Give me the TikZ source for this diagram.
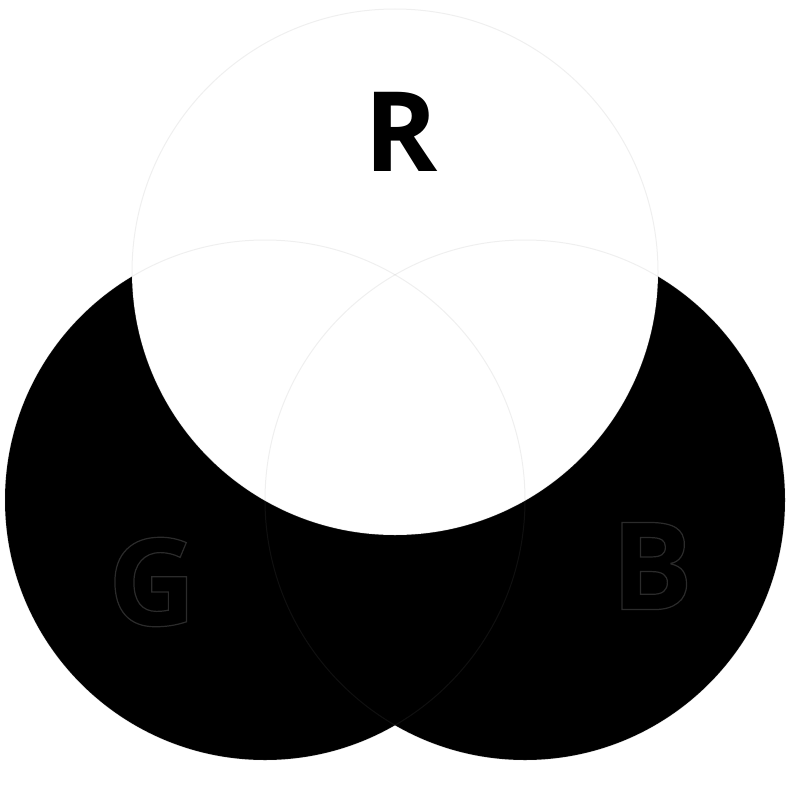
\documentclass[tikz,border=0pt]{standalone}
\usepackage{fontspec}
\setmainfont{Open Sans}
\tikzset{
  faint/.style={draw=gray, draw opacity=0.12, line width=1pt},
  ghostfont/.style={inner sep=0pt, font=\fontsize{122}{122}\selectfont\bfseries}
}
\newcommand{\outlined}[1]{\special{pdf:code q 1 Tr 1.2 w 0.17 0.17 0.17 RG}#1\special{pdf:code Q}}
\begin{document}
\begin{tikzpicture}[x=1pt,y=-1pt]
\useasboundingbox[fill=white] (0,0) rectangle (800,800);
% G and B discs
\fill[black] (265,500) circle[radius=260];
\fill[black] (525,500) circle[radius=260];
% R disc on top
\fill[white] (395,272) circle[radius=263];
\path[faint] (395,272) circle[radius=263];
% faint outlines of G and B
\path[faint] (265,500) circle[radius=260];
\path[faint] (525,500) circle[radius=260];
% labels
\node[inner sep=0pt, font=\fontsize{111}{111}\selectfont\bfseries] (R) at (401,132) {R};
\node[ghostfont] (G) at (152,582) {\outlined{G}};
\node[ghostfont] (B) at (652,566) {\outlined{B}};
\end{tikzpicture}
\end{document}
